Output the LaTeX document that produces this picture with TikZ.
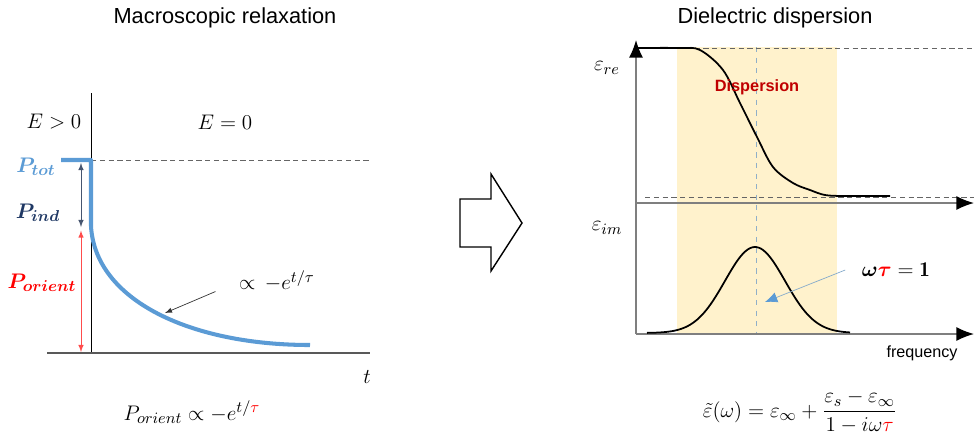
\documentclass[tikz,border=0pt]{standalone}
\usepackage{amsmath}
\usepackage{amssymb}
\usepackage{fontspec}
\setsansfont{Liberation Sans}
\usetikzlibrary{arrows, arrows.meta, positioning, calc}

\definecolor{ptotblue}{HTML}{5B9BD5}
\definecolor{indnavy}{HTML}{1F3864}
\definecolor{bandyellow}{HTML}{FFF2CC}
\definecolor{disred}{HTML}{C00000}
\definecolor{axisgray}{HTML}{7F7F7F}
\definecolor{guideblue}{HTML}{8FAFC8}

\begin{document}
\begin{tikzpicture}[x=0.02cm, y=-0.02cm,
    mathlbl/.style={font=\fontsize{13}{15}\selectfont},
    title/.style={font=\sffamily\fontsize{12.4}{14}\selectfont},
    guide/.style={densely dashed, axisgray!80!black, thin},
    axis/.style={axisgray, line width=0.9pt, -{Latex[length=10pt, width=8pt, color=black]}},
    curve/.style={black, line width=1pt}]
    \useasboundingbox (0,0) rectangle (974,441);

    % Macroscopic relaxation - left side
    \node[title] (lefttitle) at (225,18) {Macroscopic relaxation};
    \draw[black, line width=0.5pt] (91,93) -- (91,353);
    \draw[axisgray!70!black, line width=0.8pt] (47,353) -- (370,353);
    \draw[guide] (91,160) -- (370,160);
    \node[mathlbl] (efield) at (54,122) {$E>0$};
    \node[mathlbl] (nofield) at (225,122) {$E=0$};
    % Polarization decay
    \draw[ptotblue, line width=2.3pt, line join=round]
        (61,160) -- (91,160) -- (91,226) .. controls (95,300) and (190,345) .. (310,345);
    \node[mathlbl, text=ptotblue] (ptot) at (36,167) {$\boldsymbol{P_{tot}}$};
    \node[mathlbl, text=indnavy] (pind) at (38,213) {$\boldsymbol{P_{ind}}$};
    \node[mathlbl, text=red] (porient) at (42,283) {$\boldsymbol{P_{orient}}$};
    \coordinate (ptop) at (81,163);
    \coordinate (pmid) at (81,227);
    \coordinate (pbot) at (81,352);
    \draw[indnavy!60!gray, latex-latex, thin] (ptop) -- (pmid);
    \draw[red!70, latex-latex, thin] ([yshift=-2pt]pmid) -- (pbot);
    % decay law
    \node[mathlbl] (decay) at (277,281) {$\propto\,-e^{t/\tau}$};
    \coordinate (decaytip) at (165,313);
    \draw[-latex, black!80, thin] ([shift={(-10pt,-6pt)}]decay.west) -- (decaytip);
    \node[mathlbl] (taxis) at (367,377) {$t$};
    \node[mathlbl] (relaxlaw) at (192,412) {$P_{orient}\propto -e^{t/\textcolor{red}{\tau}}$};

    % Block arrow in the middle
    \draw[black, line width=0.8pt, fill=white]
        (460,199) -- (491,199) -- (491,174) -- (522,223) -- (491,271) -- (491,247) -- (460,247) -- cycle;

    % Dielectric dispersion - right side
    \node[title] (righttitle) at (775,18) {Dielectric dispersion};
    \fill[bandyellow] (677,47) rectangle (837,334);
    \draw[guideblue, dashed, thin] (756,47) -- (756,334);
    \draw[guide] (677,48) -- (974,48);
    \draw[guide] (645,197) -- (974,197);
    \draw[axis] (636,334) -- (636,40);
    \draw[axis] (636,203) -- (974,203);
    \draw[axis] (636,334) -- (974,334);
    % real part
    \draw[curve] plot[smooth, tension=0.55] coordinates {(636,48) (680,48) (700,50) (723,70) (740,103)
        (757,137) (773,167) (793,183) (810,190) (825,195) (845,196) (890,196)};
    % imaginary part
    \draw[curve] plot[domain=647:850, samples=90]
        (\x, {333-86*exp(-((\x-755)/30)*((\x-755)/30)/2)});
    \node[mathlbl] (epsre) at (607,68) {$\varepsilon_{re}$};
    \node[mathlbl] (epsim) at (607,228) {$\varepsilon_{im}$};
    \node[font=\sffamily\bfseries\fontsize{9.3}{11}\selectfont, text=disred] (disp) at (757,87) {Dispersion};
    \node[font=\fontsize{12}{14}\selectfont] (resonance) at (896,270)
        {$\boldsymbol{\omega}\textcolor{red}{\boldsymbol{\tau}}=\mathbf{1}$};
    \coordinate (restip) at (765,302);
    \draw[guideblue!80!ptotblue, thin, -{Latex[length=7pt, width=6pt, color=ptotblue]}]
        ([xshift=-6pt]resonance.west) -- (restip);
    \node[font=\sffamily\fontsize{9.2}{11}\selectfont] (freq) at (922,353) {frequency};
    \node[mathlbl] (debye) at (800,412)
        {$\tilde{\varepsilon}(\omega)=\varepsilon_\infty+\dfrac{\varepsilon_s-\varepsilon_\infty}{1-i\omega\textcolor{red}{\tau}}$};
\end{tikzpicture}
\end{document}
